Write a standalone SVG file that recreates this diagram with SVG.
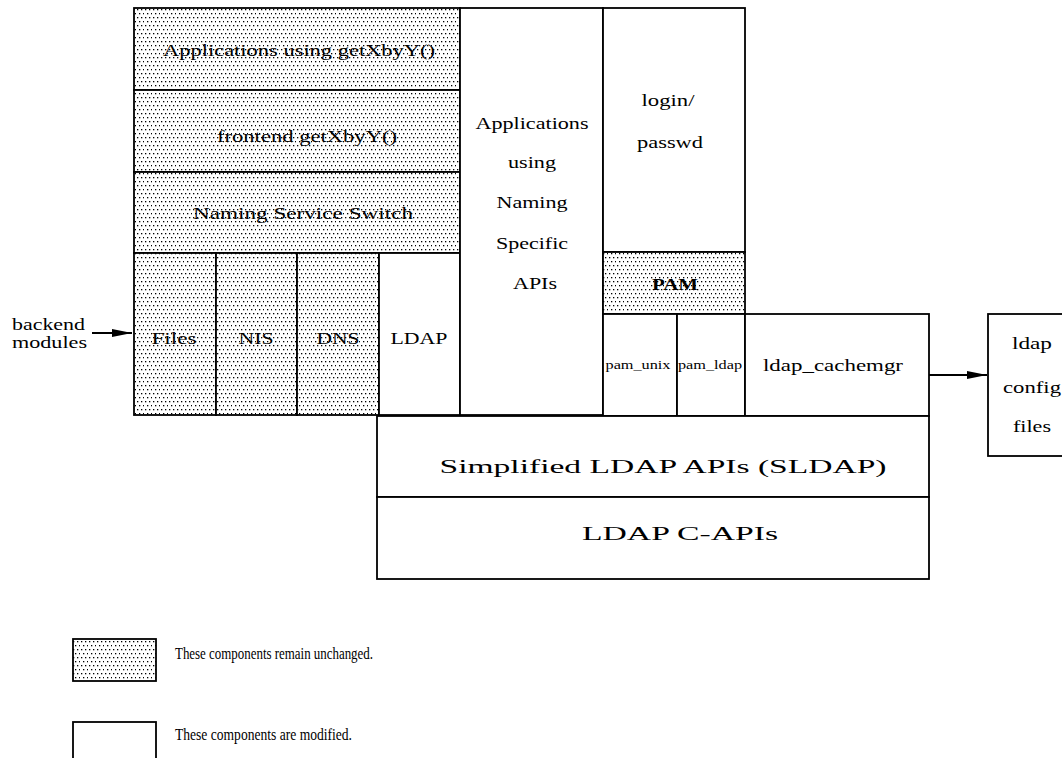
<svg xmlns="http://www.w3.org/2000/svg" width="1062" height="758" viewBox="0 0 1062 758">
<style>
  .box { fill: #ffffff; stroke: #000000; stroke-width: 1.8; }
  .hatch { fill: url(#dots); stroke: #000000; stroke-width: 1.8; }
  .lbl { font-family: "Liberation Serif", "DejaVu Serif", serif; font-size: 17px; fill: #000000; text-anchor: middle; }
  .sm { font-size: 12px; }
  .wide { font-size: 19px; }
  .leg { font-family: "Liberation Serif", "DejaVu Serif", serif; font-size: 16px; fill: #000000; }
  .conn { stroke: #000000; stroke-width: 1.8; fill: none; }
</style>
<defs>
  <pattern id="dots" x="0" y="0" width="8" height="8" patternUnits="userSpaceOnUse">
    <rect x="0" y="0" width="8" height="8" fill="#ffffff"/>
    <rect x="1" y="1" width="1.3" height="1.3" fill="#000000"/>
    <rect x="5" y="1" width="1.3" height="1.3" fill="#000000"/>
    <rect x="3" y="5" width="1.3" height="1.3" fill="#000000"/>
    <rect x="7" y="5" width="1.3" height="1.3" fill="#000000"/>
  </pattern>
  <marker id="arrow" viewBox="0 0 20 10" refX="20" refY="5" markerWidth="20" markerHeight="10" markerUnits="userSpaceOnUse" orient="auto">
    <path d="M0,1 L20,5 L0,9 Z" fill="#000000"/>
  </marker>
</defs>
<rect x="0" y="0" width="1062" height="758" fill="#ffffff"/>

<g id="app-getxbyy">
  <rect class="hatch" x="134" y="8" width="326" height="82"/>
  <text class="lbl" x="299" y="56" textLength="272" lengthAdjust="spacingAndGlyphs">Applications using getXbyY()</text>
</g>
<g id="frontend-getxbyy">
  <rect class="hatch" x="134" y="90" width="326" height="82"/>
  <text class="lbl" x="307" y="142" textLength="180" lengthAdjust="spacingAndGlyphs">frontend getXbyY()</text>
</g>
<g id="naming-service-switch">
  <rect class="hatch" x="134" y="172" width="326" height="81"/>
  <text class="lbl" x="303" y="219" textLength="220" lengthAdjust="spacingAndGlyphs">Naming Service Switch</text>
</g>
<g id="files">
  <rect class="hatch" x="134" y="253" width="82" height="162"/>
  <text class="lbl" x="174" y="344" textLength="45" lengthAdjust="spacingAndGlyphs">Files</text>
</g>
<g id="nis">
  <rect class="hatch" x="216" y="253" width="81" height="162"/>
  <text class="lbl" x="256" y="344" textLength="35" lengthAdjust="spacingAndGlyphs">NIS</text>
</g>
<g id="dns">
  <rect class="hatch" x="297" y="253" width="82" height="162"/>
  <text class="lbl" x="338" y="344" textLength="43" lengthAdjust="spacingAndGlyphs">DNS</text>
</g>
<g id="ldap">
  <rect class="box" x="379" y="253" width="81" height="162"/>
  <text class="lbl" x="419" y="344" textLength="57" lengthAdjust="spacingAndGlyphs">LDAP</text>
</g>
<g id="apps-naming-specific">
  <rect class="box" x="460" y="8" width="143" height="407"/>
  <text class="lbl" x="532" y="129" textLength="113" lengthAdjust="spacingAndGlyphs">Applications</text>
  <text class="lbl" x="532" y="168" textLength="48" lengthAdjust="spacingAndGlyphs">using</text>
  <text class="lbl" x="532" y="208" textLength="71" lengthAdjust="spacingAndGlyphs">Naming</text>
  <text class="lbl" x="532" y="249" textLength="72" lengthAdjust="spacingAndGlyphs">Specific</text>
  <text class="lbl" x="535" y="289" textLength="44" lengthAdjust="spacingAndGlyphs">APIs</text>
</g>
<g id="login-passwd">
  <rect class="box" x="603" y="8" width="142" height="244"/>
  <text class="lbl" x="668" y="106" textLength="53" lengthAdjust="spacingAndGlyphs">login/</text>
  <text class="lbl" x="670" y="148" textLength="66" lengthAdjust="spacingAndGlyphs">passwd</text>
</g>
<g id="pam">
  <rect class="hatch" x="603" y="252" width="142" height="62"/>
  <text class="lbl" x="675" y="290" font-weight="bold" textLength="46" lengthAdjust="spacingAndGlyphs">PAM</text>
</g>
<g id="pam-unix">
  <rect class="box" x="603" y="314" width="74" height="102"/>
  <text class="lbl sm" x="638" y="369" textLength="65" lengthAdjust="spacingAndGlyphs">pam_unix</text>
</g>
<g id="pam-ldap">
  <rect class="box" x="677" y="314" width="68" height="102"/>
  <text class="lbl sm" x="710" y="369" textLength="64" lengthAdjust="spacingAndGlyphs">pam_ldap</text>
</g>
<g id="ldap-cachemgr">
  <rect class="box" x="745" y="314" width="184" height="102"/>
  <text class="lbl" x="833" y="371" textLength="140" lengthAdjust="spacingAndGlyphs">ldap_cachemgr</text>
</g>
<g id="sldap">
  <rect class="box" x="377" y="416" width="552" height="81"/>
  <text class="lbl wide" x="663" y="473" textLength="447" lengthAdjust="spacingAndGlyphs">Simplified LDAP APIs (SLDAP)</text>
</g>
<g id="ldap-c-apis">
  <rect class="box" x="377" y="497" width="552" height="82"/>
  <text class="lbl wide" x="680" y="540" textLength="196" lengthAdjust="spacingAndGlyphs">LDAP C-APIs</text>
</g>
<g id="ldap-config-files">
  <rect class="box" x="988" y="314" width="90" height="142"/>
  <text class="lbl" x="1032" y="349" textLength="40" lengthAdjust="spacingAndGlyphs">ldap</text>
  <text class="lbl" x="1032" y="393" textLength="58" lengthAdjust="spacingAndGlyphs">config</text>
  <text class="lbl" x="1032" y="432" textLength="38" lengthAdjust="spacingAndGlyphs">files</text>
</g>
<g id="backend-modules">
  <text class="leg" x="12" y="330" textLength="73" lengthAdjust="spacingAndGlyphs">backend</text>
  <text class="leg" x="12" y="348" textLength="75" lengthAdjust="spacingAndGlyphs">modules</text>
</g>

<g id="connectors">
  <line class="conn" x1="92" y1="333" x2="132" y2="333" marker-end="url(#arrow)"/>
  <line class="conn" x1="929" y1="375" x2="987" y2="375" marker-end="url(#arrow)"/>
</g>

<g id="legend">
  <rect class="hatch" x="73" y="639" width="83" height="42"/>
  <text class="leg" x="175" y="659" textLength="198" lengthAdjust="spacingAndGlyphs">These components remain unchanged.</text>
  <rect class="box" x="73" y="722" width="83" height="50"/>
  <text class="leg" x="175" y="740" textLength="177" lengthAdjust="spacingAndGlyphs">These components are modified.</text>
</g>
</svg>
